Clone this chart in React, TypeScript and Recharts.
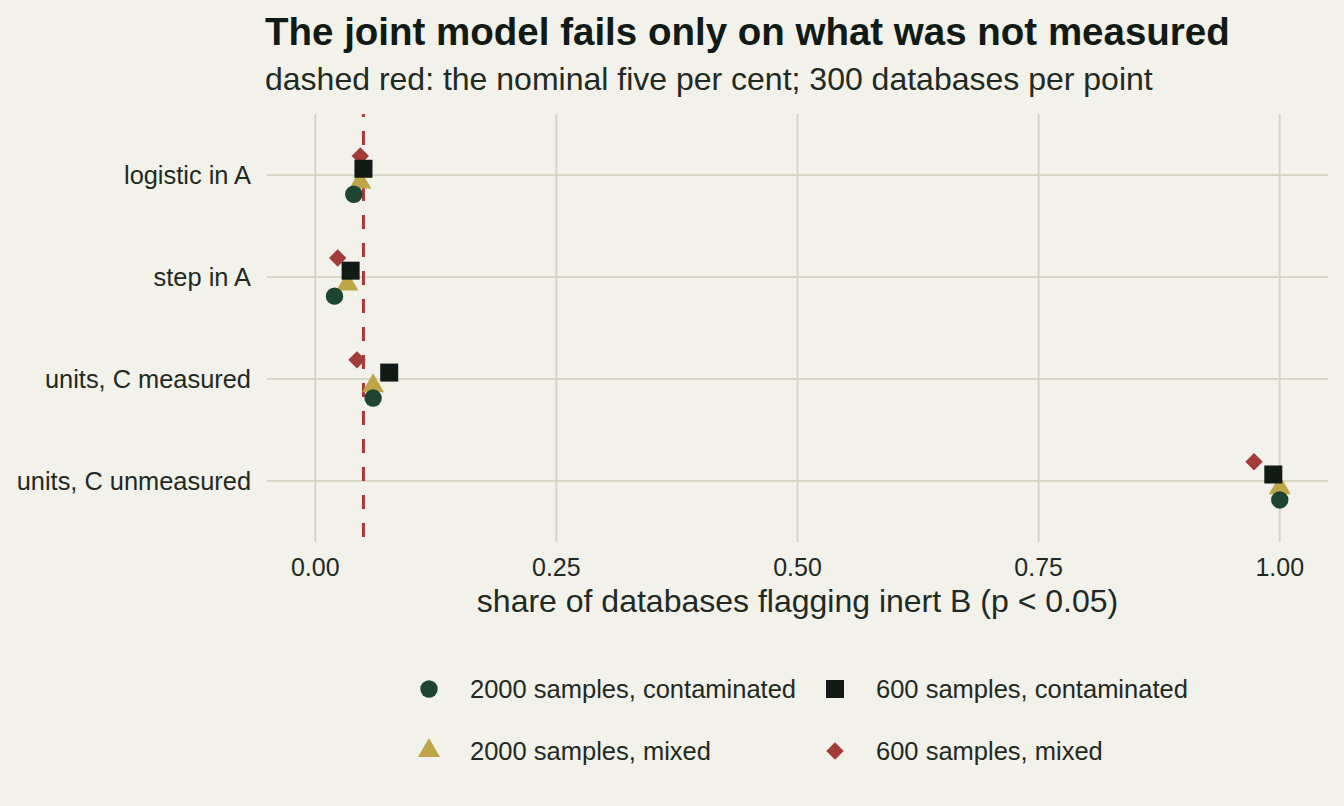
import React from 'react'
import {
  ScatterChart,
  Scatter,
  XAxis,
  YAxis,
  ReferenceLine,
} from 'recharts'

const categories = ['logistic in A', 'step in A', 'units, C measured', 'units, C unmeasured']
const yTicks = [1, 2, 3, 4]
const xTicks = [0, 0.25, 0.5, 0.75, 1]

// share flagged, one value per category (300 databases per point)
const contaminated2000 = [0.04, 0.02, 0.06, 1.0]
const mixed2000 = [0.0467, 0.0333, 0.06, 1.0]
const contaminated600 = [0.05, 0.0367, 0.0767, 0.9933]
const mixed600 = [0.0467, 0.0233, 0.0433, 0.9733]

const nominal = 0.05

const BG = '#F2F1EA'
const INK = '#1E2A22'
const GRID = '#D5D3C1'
const FONT = '"Liberation Sans", Arial, Helvetica, sans-serif'

const colors = {
  c2000: '#1E4530',
  m2000: '#BEA548',
  c600: '#111A15',
  m600: '#A33B3B',
}

// vertical dodge of the four groups within a category
const dodge = { c2000: 0.1875, m2000: 0.0625, c600: -0.0625, m600: -0.1875 }

const toPoints = (values: number[], off: number) =>
  values.map((v, i) => ({ x: v, y: i + 1 + off, cat: categories[i] }))

const Circle = ({ cx, cy, fill }: any) => <circle cx={cx} cy={cy} r={8.7} fill={fill} />
const Triangle = ({ cx, cy, fill }: any) => (
  <polygon points={`${cx - 11},${cy + 7} ${cx + 11},${cy + 7} ${cx},${cy - 12}`} fill={fill} />
)
const Square = ({ cx, cy, fill }: any) => <rect x={cx - 9} y={cy - 9} width={18} height={18} fill={fill} />
const Diamond = ({ cx, cy, fill }: any) => (
  <polygon points={`${cx},${cy - 8.7} ${cx + 8.7},${cy} ${cx},${cy + 8.7} ${cx - 8.7},${cy}`} fill={fill} />
)

const legendItems = [
  { label: '2000 samples, contaminated', shape: Circle, color: colors.c2000, x: 429, y: 689 },
  { label: '600 samples, contaminated', shape: Square, color: colors.c600, x: 835, y: 689 },
  { label: '2000 samples, mixed', shape: Triangle, color: colors.m2000, x: 429, y: 750 },
  { label: '600 samples, mixed', shape: Diamond, color: colors.m600, x: 835, y: 751 },
]

const App = () => {
  const xTickStyle = { fill: INK, fontSize: 25, fontFamily: FONT }
  const yTickStyle = { fill: INK, fontSize: 25.4, fontFamily: FONT }
  return (
    <div style={{ position: 'fixed', left: 0, top: 0, width: 1344, height: 806, background: BG, fontFamily: FONT, color: INK }}>
      <div style={{ position: 'absolute', left: 265, top: 13, fontSize: 38.5, lineHeight: 1, fontWeight: 700, color: '#111A14', whiteSpace: 'nowrap' }}>
        The joint model fails only on what was not measured
      </div>
      <div style={{ position: 'absolute', left: 265, top: 63, fontSize: 32, lineHeight: 1, whiteSpace: 'nowrap' }}>
        dashed red: the nominal five per cent; 300 databases per point
      </div>
      <div style={{ position: 'absolute', left: 267, width: 1061, top: 585, fontSize: 32, lineHeight: 1, textAlign: 'center', whiteSpace: 'nowrap' }}>
        share of databases flagging inert B (p &lt; 0.05)
      </div>

      <div style={{ position: 'absolute', left: 0, top: 0 }}>
        <ScatterChart width={1344} height={806} margin={{ top: 114, right: 16, bottom: 224, left: 0 }}>
          <XAxis
            type="number"
            dataKey="x"
            domain={[-0.05, 1.05]}
            ticks={xTicks}
            tickFormatter={(v: number) => v.toFixed(2)}
            axisLine={false}
            tickLine={false}
            tickSize={0}
            tickMargin={16}
            height={40}
            tick={xTickStyle}
            allowDataOverflow
          />
          <YAxis
            type="number"
            dataKey="y"
            domain={[0.4, 4.6]}
            ticks={yTicks}
            reversed
            tickFormatter={(v: number) => categories[v - 1] ?? ''}
            axisLine={false}
            tickLine={false}
            tickSize={0}
            tickMargin={16}
            width={267}
            tick={yTickStyle}
            allowDataOverflow
          />
          {xTicks.map((t) => (
            <ReferenceLine key={'gx' + t} x={t} stroke={GRID} strokeWidth={1.8} />
          ))}
          {yTicks.map((t) => (
            <ReferenceLine key={'gy' + t} y={t} stroke={GRID} strokeWidth={1.8} />
          ))}
          <ReferenceLine x={nominal} stroke="#A63A3A" strokeWidth={3} strokeDasharray="14 14" strokeDashoffset={23} />
          <Scatter data={toPoints(mixed600, dodge.m600)} fill={colors.m600} shape={Diamond} isAnimationActive={false} />
          <Scatter data={toPoints(mixed2000, dodge.m2000)} fill={colors.m2000} shape={Triangle} isAnimationActive={false} />
          <Scatter data={toPoints(contaminated600, dodge.c600)} fill={colors.c600} shape={Square} isAnimationActive={false} />
          <Scatter data={toPoints(contaminated2000, dodge.c2000)} fill={colors.c2000} shape={Circle} isAnimationActive={false} />
        </ScatterChart>
      </div>

      <svg style={{ position: 'absolute', left: 0, top: 0 }} width={1344} height={806}>
        {legendItems.map((it) => {
          const Shape = it.shape
          return <Shape key={it.label} cx={it.x} cy={it.y} fill={it.color} />
        })}
      </svg>
      {legendItems.map((it) => (
        <div
          key={it.label}
          style={{ position: 'absolute', left: it.x + 41, top: it.y < 720 ? 677 : 739, fontSize: 25.5, lineHeight: 1, whiteSpace: 'nowrap' }}
        >
          {it.label}
        </div>
      ))}
    </div>
  )
}

export default App
